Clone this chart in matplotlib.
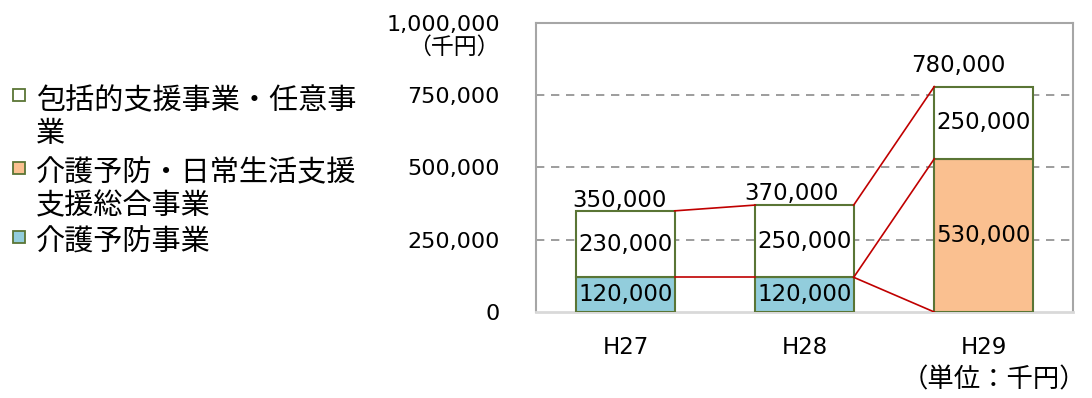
import matplotlib.pyplot as plt
from matplotlib.patches import Rectangle

plt.rcParams['font.family'] = ['DejaVu Sans', 'Noto Sans CJK JP']

# data (unit: 千円)
years = ['H27', 'H28', 'H29']
yobo = [120000, 120000, 0]          # 介護予防事業
sogo = [0, 0, 530000]               # 介護予防・日常生活支援総合事業
hokatsu = [230000, 250000, 250000]  # 包括的支援事業・任意事業
yticks = [0, 250000, 500000, 750000, 1000000]

labels = ['包括的支援事業・任意事\n業', '介護予防・日常生活支援\n支援総合事業', '介護予防事業']

c_yobo = '#92CDDC'
c_sogo = '#FAC090'
c_edge = '#5A7535'
c_line = '#C00000'

x = list(range(len(years)))
w = 0.55
base2 = [a + b for a, b in zip(yobo, sogo)]
totals = [a + b for a, b in zip(base2, hokatsu)]

fig = plt.figure(figsize=(10.92, 3.98), dpi=100)
ax = fig.add_axes([0.4908, 0.2161, 0.4918, 0.7261])

ax.bar(x, yobo, w, color=c_yobo, edgecolor=c_edge, linewidth=1.5, zorder=3)
ax.bar(x, sogo, w, bottom=yobo, color=c_sogo, edgecolor=c_edge, linewidth=1.5, zorder=3)
ax.bar(x, hokatsu, w, bottom=base2, color='white', edgecolor=c_edge, linewidth=1.5, zorder=3)

lab_fs = 16.5

# segment labels
for i in x:
    if yobo[i]:
        ax.text(i, yobo[i] / 2, f'{yobo[i]:,}', ha='center', va='center', fontsize=lab_fs, zorder=5)
    if sogo[i]:
        ax.text(i, yobo[i] + sogo[i] / 2, f'{sogo[i]:,}', ha='center', va='center', fontsize=lab_fs, zorder=5)
    ax.text(i, base2[i] + hokatsu[i] / 2, f'{hokatsu[i]:,}', ha='center', va='center', fontsize=lab_fs, zorder=5)

# totals above bars
tot_off = [(-4, -1), (-9, 0), (-18, 7)]
for i in x:
    ax.annotate(f'{totals[i]:,}', (i, totals[i]), xytext=tot_off[i], textcoords='offset points',
                ha='center', va='bottom', fontsize=lab_fs)

# red connector lines between bars
conn = [
    (0, totals[0], totals[1]),
    (0, yobo[0], yobo[1]),
    (1, totals[1], totals[2]),
    (1, yobo[1], base2[2]),
    (1, yobo[1], 0),
]
for i, a, b in conn:
    ax.plot([i + w / 2, i + 1 - w / 2], [a, b], color=c_line, linewidth=1.2, zorder=4)

ax.set_xlim(-0.5, 2.5)
ax.set_ylim(0, 1000000)
ax.set_xticks(x)
ax.set_xticklabels(years, fontsize=16.5)
ax.set_yticks(yticks)
ax.set_yticklabels([f'{v:,}' for v in yticks], fontsize=16)
ax.tick_params(axis='y', length=0, pad=26)
ax.tick_params(axis='x', length=0, pad=17)

for v in yticks[1:-1]:
    ax.axhline(v, color='#8C8C8C', linewidth=1.2, linestyle=(0, (5, 4)), zorder=1)

for s in ['left', 'top', 'right']:
    ax.spines[s].set_color('#A6A6A6')
    ax.spines[s].set_linewidth(1.5)
ax.spines['bottom'].set_color('#D9D9D9')
ax.spines['bottom'].set_linewidth(2)

fig.text(0.416, 0.880, '（千円）', ha='center', va='center', fontsize=16.5,
         family=['Noto Sans CJK JP', 'DejaVu Sans'])
fig.text(0.995, 0.045, '（単位：千円）', ha='right', va='center', fontsize=19,
         family=['Noto Sans CJK JP', 'DejaVu Sans'])

# legend
fills = ['white', c_sogo, c_yobo]
sq_y = [95, 168, 237]
txt_top = [86, 158, 228]
for lab, fc, yy, ty in zip(labels, fills, sq_y, txt_top):
    fig.patches.append(Rectangle((13 / 1092, 1 - (yy + 6) / 398), 12 / 1092, 12 / 398,
                                 transform=fig.transFigure, facecolor=fc,
                                 edgecolor=c_edge, linewidth=1.3))
    fig.text(36 / 1092, 1 - ty / 398, lab, ha='left', va='top', fontsize=21,
             linespacing=1.14, family=['Noto Sans CJK JP', 'DejaVu Sans'])

fig.savefig('out.png', dpi=100)
